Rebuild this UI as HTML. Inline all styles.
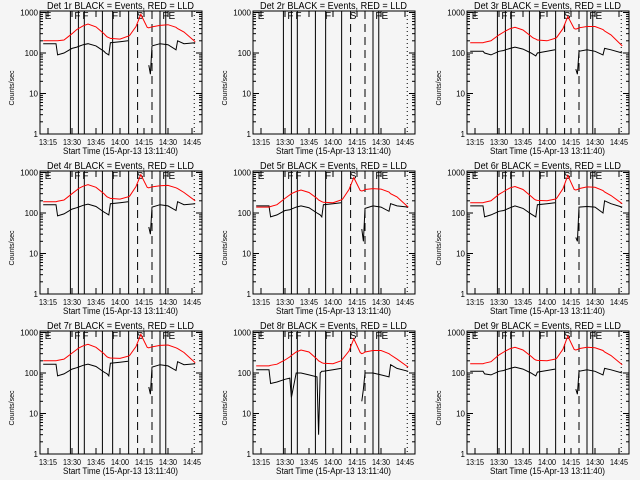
<!DOCTYPE html>
<html><head><meta charset="utf-8"><style>
html,body{margin:0;padding:0;background:#f5f5f5;}
svg{display:block;font-family:"Liberation Sans",sans-serif;}
</style></head><body>
<svg id="chart" width="640" height="480"></svg>
<script>
// shared times (minutes after 13:00)
const times = [12,20,21,25,30,33,34,37,40,45,50,51,52,53,54,60,65,66,70,73,77,78,79,80,85,90,95,96,100,107];
const detNames = ["1r","2r","3r","4r","5r","6r","7r","8r","9r"];
const N = null;
const red1 = [200,200,200,210,300,380,400,470,520,440,300,270,250,240,230,220,260,270,450,900,430,420,430,440,480,500,430,400,330,190];
const blk1 = [170,170,90,100,130,140,145,160,170,150,110,100,95,90,180,190,200,N,N,N,N,50,30,150,170,160,120,200,170,180];
const red3 = [180,180,185,200,280,330,350,400,430,370,260,240,230,220,210,200,230,240,400,800,400,390,400,420,450,450,380,350,280,150];
const blk3 = [110,110,100,90,110,115,120,130,140,125,100,95,90,85,100,110,120,N,N,N,N,40,30,110,120,110,90,130,120,100];
const red4 = [190,190,195,210,300,370,400,460,500,430,300,270,250,240,230,220,250,260,450,880,430,420,430,440,470,480,420,400,320,200];
const blk4 = [160,160,85,95,125,135,140,155,165,145,105,100,95,90,170,180,190,N,N,N,N,45,30,140,160,150,115,190,160,170];
const red5 = [140,140,145,160,230,280,300,340,370,320,230,210,200,190,185,180,210,220,380,750,360,350,360,380,400,390,330,300,250,140];
const blk5 = [150,150,80,90,115,120,125,140,150,135,100,95,90,80,160,170,180,N,N,N,N,40,20,130,150,140,110,170,150,140];
const red6 = [180,180,185,200,290,340,360,420,450,380,260,240,220,210,205,200,220,230,400,850,380,370,380,400,440,430,360,330,270,170];
const blk6 = [150,150,80,90,110,115,120,135,150,130,95,90,85,80,160,170,180,N,N,N,N,25,20,140,145,140,100,200,170,140];
const red7 = [200,200,205,220,310,380,410,470,510,430,300,270,250,240,235,230,260,270,450,900,430,420,430,440,480,490,420,400,320,180];
const blk7 = [165,165,85,95,125,135,140,155,165,145,105,100,95,85,175,185,195,N,N,N,N,45,30,140,160,150,115,190,160,170];
const red8 = [150,150,155,165,210,250,270,330,370,330,220,200,190,180,175,170,200,220,350,700,320,300,310,330,360,360,300,280,220,140];
const blk8 = [120,120,55,60,70,75,25,100,100,90,80,3,100,110,110,120,130,N,N,N,N,20,40,100,100,90,80,160,130,110];
const red9 = [170,170,175,190,280,330,350,400,430,370,260,240,220,210,205,200,220,230,390,820,380,370,380,400,430,420,360,330,270,160];
const blk9 = [110,110,95,90,110,115,120,130,140,125,100,95,90,85,105,115,125,N,N,N,N,40,30,110,120,110,90,130,120,100];
const redSeries = [red1,N,red3,red4,red5,red6,red7,red8,red9];
const blkSeries = [blk1,N,blk3,blk4,blk5,blk6,blk7,blk8,blk9];
// event lines: time, style
const lineTimes = [29,34,37.7,49,55.4,65.4,71,80,85,88.6,106.4];
const lineStyles = ["solid","solid","solid","solid","solid","solid","dash","dash","solid","solid","dot"];
const markTimes = [13,31.5,36.5,55,70.5,86.5];
const markTexts = ["E","F","F","F","S","FE"];
const xTickLabels = ["13:15","13:30","13:45","14:00","14:15","14:30","14:45"];
const xTickMinutes = [15,30,45,60,75,90,105];
const yTickLabels = ["1","10","100","1000"];
const yTickValues = [1,10,100,1000];

const svg = document.getElementById('chart');
const NS = "http://www.w3.org/2000/svg";
function mk(tag, attrs, parent){const e=document.createElementNS(NS,tag);for(const k in attrs)e.setAttribute(k,attrs[k]);parent.appendChild(e);return e;}
const L=40,R=202,T=11,B=134;
const xs = m => 48 + (m-15)*1.6;
const ys = v => B - 40.5*Math.log10(v);

for(let p=0;p<9;p++){
  const ox = [0,213,427][p%3], oy = [0,160,320][Math.floor(p/3)];
  const g = mk('g',{transform:`translate(${ox},${oy})`},svg);
  
  
  const t = mk('text',{x:47,y:9,'font-size':10,textLength:147,lengthAdjust:'spacingAndGlyphs',fill:'#000'},g);
  t.textContent = `Det ${detNames[p]} BLACK = Events, RED = LLD`;
  
  
  // event lines
  lineTimes.forEach((lt,i)=>{
    const x=xs(lt);
    const ln=mk('line',{x1:x,x2:x,y1:T,y2:B,stroke:'#000','stroke-width':1},g);
    if(lineStyles[i]==='dash') ln.setAttribute('stroke-dasharray','8,5');
    if(lineStyles[i]==='dot') ln.setAttribute('stroke-dasharray','1,3');
    
    
  });
  markTimes.forEach((mt,i)=>{
    const tx=mk('text',{x:xs(mt),y:T+8,'font-size':10,fill:'#000'},g);
    tx.textContent=markTexts[i];
    
    
  });
  // series
  [[blkSeries[p],'#000','black-events-line'],[redSeries[p],'#f00','red-lld-line']].forEach(([arr,col,nm])=>{
    if(!arr) return;
    let d='',pen=false;
    arr.forEach((v,i)=>{
      if(v===null){pen=false;return;}
      d+=(pen?'L':'M')+xs(times[i]).toFixed(1)+','+ys(v).toFixed(1);pen=true;
    });
    const pa=mk('path',{d:d,fill:'none',stroke:col,'stroke-width':1},g);
    
    
  });
  // frame
  const fr=mk('rect',{x:L,y:T,width:R-L,height:B-T,fill:'none',stroke:'#000','stroke-width':1},g);
  
  
  // y ticks
  yTickValues.forEach((v,i)=>{
    const y=ys(v);
    mk('line',{x1:L,x2:L+6,y1:y,y2:y,stroke:'#000'},g);
    mk('line',{x1:R,x2:R-6,y1:y,y2:y,stroke:'#000'},g);
    const tx=mk('text',{x:L-2,y:y+3,'font-size':8,'text-anchor':'end',fill:'#000'},g);
    tx.textContent=yTickLabels[i];
    
    
    if(i<3) for(let k=2;k<10;k++){const yy=ys(v*k);
      mk('line',{x1:L,x2:L+3,y1:yy,y2:yy,stroke:'#000'},g);
      mk('line',{x1:R,x2:R-3,y1:yy,y2:yy,stroke:'#000'},g);}
  });
  // x ticks
  xTickMinutes.forEach((m,i)=>{
    const x=xs(m);
    mk('line',{x1:x,x2:x,y1:B,y2:B-6,stroke:'#000'},g);
    mk('line',{x1:x,x2:x,y1:T,y2:T+6,stroke:'#000'},g);
    const tx=mk('text',{x:x-9,y:B+11,'font-size':8,textLength:18,lengthAdjust:'spacingAndGlyphs',fill:'#000'},g);
    tx.textContent=xTickLabels[i];
    
    
  });
  const xt=mk('text',{x:63,y:B+20,'font-size':9,textLength:115,lengthAdjust:'spacingAndGlyphs',fill:'#000'},g);
  xt.textContent='Start Time (15-Apr-13 13:11:40)';
  
  
  const yt=mk('text',{x:0,y:0,'font-size':7,'text-anchor':'middle',fill:'#000',transform:`translate(14,88) rotate(-90)`},g);
  yt.textContent='Counts/sec';
  
  
}
</script>
</body></html>
